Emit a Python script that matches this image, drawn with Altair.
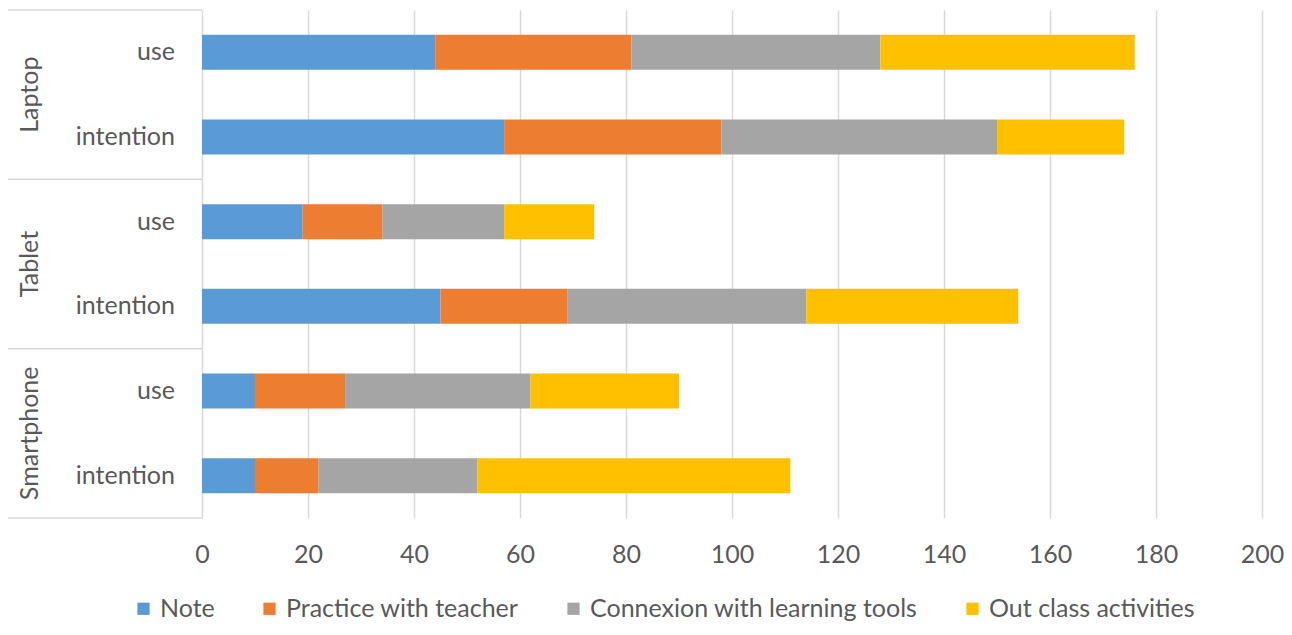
import altair as alt
import pandas as pd

devices = ["Laptop", "Laptop", "Tablet", "Tablet", "Smartphone", "Smartphone"]
kinds = ["use", "intention", "use", "intention", "use", "intention"]
group_names = ["Laptop", "Tablet", "Smartphone"]
categories = ["Note", "Practice with teacher", "Connexion with learning tools", "Out class activities"]
note = [44, 57, 19, 45, 10, 10]
practice = [37, 41, 15, 24, 17, 12]
connexion = [47, 52, 23, 45, 35, 30]
out_class = [48, 24, 17, 40, 28, 59]
colors = ["#5B9BD5", "#ED7D31", "#A5A5A5", "#FFC000"]
x_ticks = [0, 20, 40, 60, 80, 100, 120, 140, 160, 180, 200]
boundaries = [0, 2, 4, 6]

FONT = "Lato"
TXT = "#595959"
GRID = "#d9d9d9"

series = [note, practice, connexion, out_class]
rows = []
for r in range(len(devices)):
    start = 0
    for c, (cat, vals) in enumerate(zip(categories, series)):
        rows.append({"row": r, "device": devices[r], "kind": kinds[r],
                     "category": cat, "order": c, "value": vals[r],
                     "x0": start, "x1": start + vals[r]})
        start += vals[r]
df = pd.DataFrame(rows)

yscale = alt.Scale(domain=[0, 6], reverse=True)

bars = alt.Chart(df).transform_calculate(
    y0="datum.row + 0.293", y1="datum.row + 0.707"
).mark_bar().encode(
    x=alt.X("x0:Q", scale=alt.Scale(domain=[0, 200]),
            axis=alt.Axis(values=x_ticks, grid=True, gridColor=GRID, gridWidth=1.5,
                          domain=False, ticks=False, labelFont=FONT, labelFontSize=25,
                          labelColor=TXT, labelPadding=24, labelFlush=False, title=None)),
    x2="x1:Q",
    y=alt.Y("y0:Q", scale=yscale, axis=None),
    y2="y1:Q",
    color=alt.Color("category:N",
                    scale=alt.Scale(domain=categories, range=colors),
                    legend=alt.Legend(orient="none", legendX=-71, legendY=586,
                                      direction="horizontal", symbolType="square",
                                      symbolSize=150, symbolStrokeWidth=0,
                                      labelFont=FONT, labelFontSize=25, labelColor=TXT,
                                      labelLimit=500, columnPadding=42, labelOffset=4,
                                      title=None, padding=0)),
)

lab_df = pd.DataFrame({"row": list(range(len(kinds))), "kind": kinds})
labels = alt.Chart(lab_df).transform_calculate(yc="datum.row + 0.5").mark_text(
    align="right", baseline="middle", font=FONT, fontSize=25, color=TXT
).encode(x=alt.value(-27), y=alt.Y("yc:Q", scale=yscale, axis=None), text="kind:N")

grp_df = pd.DataFrame({"g": list(range(len(group_names))), "device": group_names})
groups = alt.Chart(grp_df).transform_calculate(yc="datum.g * 2 + 1").mark_text(
    angle=270, align="center", baseline="middle", font=FONT, fontSize=25, color=TXT
).encode(x=alt.value(-172), y=alt.Y("yc:Q", scale=yscale, axis=None), text="device:N")

sep_df = pd.DataFrame({"b": boundaries})
seps = alt.Chart(sep_df).mark_rule(color=GRID, strokeWidth=1.5).encode(
    x=alt.value(-194), x2=alt.value(0), y=alt.Y("b:Q", scale=yscale, axis=None)
)

chart = alt.layer(seps, bars, labels, groups).properties(
    width=1060, height=508,
    autosize=alt.AutoSizeParams(type="none"),
    padding={"left": 194, "top": 2, "right": 22, "bottom": 109},
    background="white",
).configure_view(stroke=None)

chart.save("out.html", embed_options={"renderer": "svg", "actions": False})
